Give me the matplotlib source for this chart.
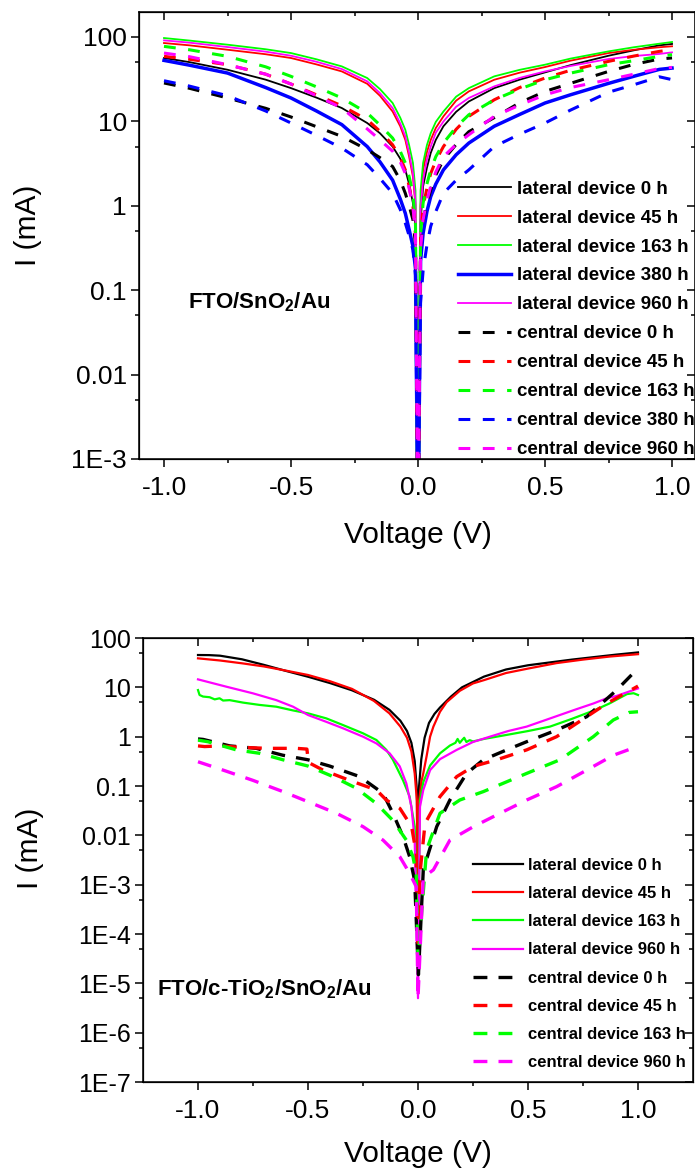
import matplotlib
matplotlib.use("Agg")
import matplotlib.pyplot as plt
from matplotlib.ticker import NullFormatter

plt.rcParams['font.family'] = ['Liberation Sans', 'DejaVu Sans']
plt.rcParams['mathtext.fontset'] = 'custom'
plt.rcParams['mathtext.rm'] = 'Liberation Sans'
plt.rcParams['mathtext.bf'] = 'Liberation Sans:bold'
plt.rcParams['lines.scale_dashes'] = False

# ---------------- data: top panel (FTO/SnO2/Au) ----------------
V_TOP = [-1.0, -0.9, -0.75, -0.6, -0.5, -0.4, -0.3, -0.2, -0.15, -0.1, -0.07, -0.05, -0.035,
         -0.02, -0.01, 0.0, 0.01, 0.02, 0.035, 0.05, 0.07, 0.1, 0.15, 0.2, 0.3, 0.4, 0.5,
         0.6, 0.75, 0.85, 0.95, 1.0]
lat0_top = [55.9, 50, 40.6, 31, 24.6, 19, 14.3, 9.5, 7.2, 5.0, 3.6, 2.65, 1.8,
            1.07, 0.56, 1e-4, 0.63, 1.69, 2.8, 4.2, 6.0, 8.7, 12.9, 17.1, 24.6, 31, 37.8,
            46, 59.5, 69, 79, 82]
lat45_top = [84.1, 79, 70.1, 62, 55.9, 47, 38.8, 27.7, 20, 13.0, 8.7, 6.0, 3.8,
             2.2, 1.0, 1e-4, 1.0, 2.65, 4.3, 6.0, 8.3, 11.4, 17.5, 22.5, 30.9, 37.5, 43.7,
             52, 64, 70, 75, 77]
lat163_top = [96.4, 90, 80.4, 71, 64, 54, 44.5, 32.4, 24, 16.4, 11, 7.9, 5.2,
              3.2, 1.5, 1e-4, 1.5, 3.2, 5.2, 7.2, 9.8, 13, 19.5, 24.6, 33.9, 40.5, 46.6,
              55, 67, 75, 82.6, 86.5]
lat380_top = [52.4, 46, 37.1, 25, 18.8, 13.2, 9.1, 5.0, 3.3, 2.0, 1.2, 0.81, 0.52,
              0.33, 0.18, 1e-4, 0.22, 0.47, 0.85, 1.28, 1.8, 2.65, 4.0, 5.5, 8.7, 12, 16.4,
              20.5, 28, 34, 41, 42.5]
lat960_top = [90.5, 85, 75.4, 66.5, 59.5, 50.5, 41.4, 29.6, 21.5, 14.3, 9.4, 6.6, 4.2,
              2.4, 1.1, 1e-4, 0.9, 2.0, 3.5, 5.0, 7.3, 9.9, 14.8, 18.8, 25.8, 32.5, 38.8,
              45, 54.4, 59, 62.5, 65.2]
cen0_top = [28.3, 24.5, 18.8, 14.2, 11.2, 8.6, 6.6, 4.6, 3.7, 2.9, 2.0, 1.4, 1.0,
            0.68, 0.35, 1e-4, 0.3, 0.68, 1.05, 1.54, 2.3, 3.5, 5.3, 7.5, 11.0, 16.5, 22.5,
            28, 38.8, 47, 54.4, 56]
cen45_top = [58.5, 54, 46.6, 36, 27.5, 20.5, 15.2, 10.4, 7.6, 5.25, 3.7, 2.65, 1.7,
             0.98, 0.45, 1e-4, 0.4, 0.98, 1.6, 2.4, 3.4, 5.0, 8.0, 11.4, 17.9, 25, 32.4,
             40, 51, 59, 67, 70]
cen163_top = [76.8, 70, 58.5, 44, 33.9, 25.5, 18.8, 12.5, 9.0, 6.3, 4.4, 3.2, 2.2,
              1.4, 0.6, 1e-4, 0.45, 1.07, 1.8, 2.65, 3.8, 5.5, 8.5, 11.9, 17.9, 24, 30.9,
              37, 46.6, 52, 58.5, 61.2]
cen380_top = [30.1, 26, 20, 13.2, 9.5, 6.8, 4.8, 3.05, 2.1, 1.4, 0.9, 0.62, 0.44,
              0.30, 0.15, 1e-4, 0.07, 0.17, 0.34, 0.57, 0.85, 1.4, 2.0, 2.65, 5.0, 7.0, 9.5,
              13.5, 22, 27, 33.5, 31]
cen960_top = [64, 58, 46.6, 36, 27.5, 20, 14.3, 8.1, 6.0, 4.4, 3.3, 2.4, 1.6,
              0.98, 0.45, 1e-4, 0.3, 0.68, 1.15, 1.69, 2.5, 3.8, 5.3, 6.9, 11.4, 15.5, 20.5,
              25, 30.9, 36, 42, 43.3]

TOP_LABELS = ["lateral device 0 h", "lateral device 45 h", "lateral device 163 h",
              "lateral device 380 h", "lateral device 960 h",
              "central device 0 h", "central device 45 h", "central device 163 h",
              "central device 380 h", "central device 960 h"]

# ---------------- data: bottom panel (FTO/c-TiO2/SnO2/Au) ----------------
lat0_bot_v = [-1.0, -0.95, -0.9, -0.8, -0.7, -0.6, -0.5, -0.4, -0.3, -0.2, -0.13, -0.08,
              -0.05, -0.03, -0.015, -0.005, 0.0, 0.005, 0.015, 0.03, 0.05, 0.075, 0.1,
              0.15, 0.2, 0.3, 0.4, 0.5, 0.6, 0.7, 0.8, 0.9, 1.0]
lat0_bot_i = [45.2, 45.0, 43.8, 37, 28.5, 21.5, 16.4, 12.2, 8.7, 5.6, 3.5, 2.1,
              1.3, 0.75, 0.32, 0.08, 2e-5, 0.1, 0.35, 0.95, 1.9, 2.9, 3.9,
              6.5, 10, 16.5, 23, 28, 32, 36.5, 41, 46, 51]

lat45_bot_v = [-1.0, -0.9, -0.8, -0.7, -0.6, -0.5, -0.4, -0.3, -0.2, -0.13, -0.08, -0.05,
               -0.03, -0.015, -0.005, 0.0, 0.005, 0.015, 0.024, 0.039, 0.055, 0.07, 0.1,
               0.13, 0.19, 0.25, 0.3, 0.4, 0.5, 0.63, 0.75, 0.87, 1.0]
lat45_bot_i = [38.7, 35, 30.7, 26.5, 21.8, 17.8, 13.3, 9.3, 5.3, 2.97, 1.6, 0.95,
               0.5, 0.18, 0.05, 3e-5, 0.05, 0.12, 0.18, 0.4, 1.0, 1.6, 3.2,
               5.0, 8.5, 12, 14, 19.5, 24, 31, 36.5, 42, 47]

lat163_bot_v = [-1.0, -0.993, -0.977, -0.947, -0.924, -0.902, -0.886, -0.856, -0.795, -0.72,
                -0.644, -0.568, -0.5, -0.417, -0.341, -0.25, -0.189, -0.144, -0.114, -0.068,
                -0.038, -0.015, 0.0, 0.009, 0.024, 0.055, 0.1, 0.145, 0.17, 0.18, 0.19, 0.2,
                0.21, 0.22, 0.235, 0.25, 0.3, 0.4, 0.5, 0.6, 0.7, 0.8, 0.87, 0.95, 0.98, 1.0]
lat163_bot_i = [8.8, 7.0, 6.5, 6.3, 5.7, 6.0, 5.4, 5.5, 4.9, 4.4,
                4.05, 3.4, 2.97, 2.35, 1.72, 1.17, 0.855, 0.54, 0.34, 0.13,
                0.061, 0.015, 3e-5, 0.05, 0.12, 0.26, 0.46, 0.66, 0.75, 0.9, 0.75, 0.85,
                0.95, 0.78, 0.85, 0.8, 0.9, 1.08, 1.3, 1.6, 2.3, 3.4, 4.7, 7.3, 7.6, 7.0]

lat960_bot_v = [-1.0, -0.871, -0.75, -0.644, -0.568, -0.5, -0.417, -0.341, -0.25, -0.189,
                -0.129, -0.083, -0.053, -0.030, -0.015, 0.0, 0.009, 0.024, 0.055, 0.1,
                0.176, 0.25, 0.327, 0.41, 0.494, 0.57, 0.645, 0.72, 0.797, 0.858, 0.903, 1.0]
lat960_bot_i = [14.5, 10.3, 7.55, 5.5, 4.05, 2.75, 2.0, 1.48, 1.0, 0.73,
                0.46, 0.25, 0.113, 0.038, 0.008, 5e-6, 0.038, 0.083, 0.21, 0.35,
                0.54, 0.78, 1.0, 1.3, 1.6, 2.1, 2.75, 3.6, 4.7, 6.0, 6.7, 9.5]

cen0_bot_v = [-1.0, -0.977, -0.856, -0.735, -0.614, -0.5, -0.402, -0.265, -0.159, -0.114,
              -0.068, -0.038, -0.015, 0.002, 0.024, 0.085, 0.145, 0.221, 0.297, 0.403,
              0.494, 0.63, 0.767, 0.903, 1.0]
cen0_bot_i = [0.9, 0.88, 0.65, 0.58, 0.42, 0.34, 0.254, 0.155, 0.071, 0.028,
              0.0094, 0.0037, 0.0012, 1.5e-5, 0.002, 0.015, 0.052, 0.18, 0.34, 0.54,
              0.79, 1.36, 2.54, 8.8, 24.3]

cen45_bot_v = [-1.0, -0.97, -0.902, -0.811, -0.689, -0.553, -0.505, -0.498, -0.432, -0.311,
               -0.189, -0.144, -0.082, -0.029, -0.008, 0.0, 0.009, 0.032, 0.1, 0.176,
               0.252, 0.358, 0.494, 0.63, 0.767, 0.858, 1.0]
cen45_bot_i = [0.65, 0.63, 0.65, 0.61, 0.58, 0.58, 0.56, 0.30, 0.21, 0.13,
               0.083, 0.052, 0.035, 0.015, 0.0043, 5e-5, 0.0017, 0.0175, 0.061, 0.155,
               0.25, 0.34, 0.54, 1.0, 2.54, 4.7, 10.6]

cen163_bot_v = [-1.0, -0.955, -0.826, -0.72, -0.614, -0.5, -0.386, -0.28, -0.189, -0.114,
                -0.053, -0.023, -0.008, 0.0, 0.039, 0.055, 0.1, 0.19, 0.297, 0.494,
                0.645, 0.797, 0.888, 0.96, 1.0]
cen163_bot_i = [0.85, 0.79, 0.54, 0.46, 0.34, 0.254, 0.155, 0.09, 0.044, 0.020,
                0.008, 0.0037, 0.0017, 3e-5, 0.005, 0.008, 0.028, 0.052, 0.077, 0.18,
                0.34, 1.0, 2.18, 3.1, 3.2]

cen960_bot_v = [-1.0, -0.886, -0.75, -0.614, -0.5, -0.371, -0.25, -0.159, -0.083, -0.038,
                -0.008, 0.0, 0.024, 0.07, 0.145, 0.252, 0.373, 0.494, 0.63, 0.767,
                0.888, 0.96, 1.0]
cen960_bot_i = [0.31, 0.21, 0.13, 0.077, 0.048, 0.028, 0.015, 0.008, 0.0037, 0.0017,
                0.00091, 5e-6, 0.0014, 0.002, 0.008, 0.015, 0.028, 0.052, 0.097, 0.21,
                0.42, 0.55, 0.55]

BOT_LABELS = ["lateral device 0 h", "lateral device 45 h", "lateral device 163 h",
              "lateral device 960 h", "central device 0 h", "central device 45 h",
              "central device 163 h", "central device 960 h"]

X_TICKS = [-1.0, -0.5, 0.0, 0.5, 1.0]
X_TICKLABELS = ["-1.0", "-0.5", "0.0", "0.5", "1.0"]
X_MINOR = [-0.75, -0.25, 0.25, 0.75]
TOP_YTICKS = [1e-3, 1e-2, 1e-1, 1, 10, 100]
TOP_YLABELS = ["1E-3", "0.01", "0.1", "1", "10", "100"]
BOT_YTICKS = [1e-7, 1e-6, 1e-5, 1e-4, 1e-3, 1e-2, 1e-1, 1, 10, 100]
BOT_YLABELS = ["1E-7", "1E-6", "1E-5", "1E-4", "1E-3", "0.01", "0.1", "1", "10", "100"]

BLACK, RED, GREEN, BLUE, MAGENTA = "#000000", "#ff0000", "#00ff00", "#0000ff", "#ff00ff"

W, H = 695, 1171
fig = plt.figure(figsize=(W / 100, H / 100), dpi=100)


def px_axes(l, t, r, b):
    return [l / W, 1 - b / H, (r - l) / W, (b - t) / H]


def style(ax, xlim, ylim, yticks, ylabels, ysize):
    ax.set_yscale('log')
    ax.set_xlim(*xlim)
    ax.set_ylim(*ylim)
    ax.set_xticks(X_TICKS)
    ax.set_xticklabels(X_TICKLABELS)
    ax.set_xticks(X_MINOR, minor=True)
    ax.set_yticks(yticks)
    ax.set_yticklabels(ylabels)
    ymin = [5 * t for t in yticks if 5 * t < ylim[1]]
    ax.set_yticks(ymin, minor=True)
    ax.yaxis.set_minor_formatter(NullFormatter())
    ax.tick_params(which='both', direction='out', width=1.1, top=False, right=False)
    ax.tick_params(which='major', length=5.5)
    ax.tick_params(which='minor', length=3.2)
    ax.tick_params(axis='x', labelsize=19, pad=7)
    ax.tick_params(axis='y', labelsize=ysize, pad=3)
    for s in ax.spines.values():
        s.set_linewidth(1.1)
    # inward mirror ticks on top and right
    tx = ax.twiny()
    tx.set_xlim(*xlim)
    tx.set_xticks(X_TICKS)
    tx.set_xticks(X_MINOR, minor=True)
    tx.tick_params(which='both', direction='in', labeltop=False, width=1.1)
    tx.tick_params(which='major', length=5.5)
    tx.tick_params(which='minor', length=3.2)
    ty = ax.twinx()
    ty.set_yscale('log')
    ty.set_ylim(*ylim)
    ty.set_yticks(yticks)
    ty.set_yticks(ymin, minor=True)
    ty.yaxis.set_minor_formatter(NullFormatter())
    ty.tick_params(which='both', direction='in', labelright=False, width=1.1)
    ty.tick_params(which='major', length=5.5)
    ty.tick_params(which='minor', length=3.2)


# ---------------- top panel ----------------
ax1 = fig.add_axes(px_axes(138.6, 12, 694.9, 459))
DT = (8.5, 9.0)
top_series = [
    (lat0_top, BLACK, 1.3, None), (lat45_top, RED, 1.3, None), (lat163_top, GREEN, 1.3, None),
    (lat380_top, BLUE, 2.5, None), (lat960_top, MAGENTA, 1.3, None),
    (cen0_top, BLACK, 2.2, DT), (cen45_top, RED, 2.2, DT), (cen163_top, GREEN, 2.2, DT),
    (cen380_top, BLUE, 2.2, DT), (cen960_top, MAGENTA, 2.2, DT)]
handles1 = []
for (vals, c, lw, d), lab in zip(top_series, TOP_LABELS):
    if d is None:
        ln, = ax1.plot(V_TOP, vals, color=c, lw=lw, label=lab)
    else:
        ln, = ax1.plot(V_TOP, vals, color=c, lw=lw, dashes=d, label=lab)
    handles1.append(ln)
style(ax1, (-1.1, 1.09), (1e-3, 196), TOP_YTICKS, TOP_YLABELS, 19)
ax1.legend(handles=handles1, loc='upper left', bbox_to_anchor=(458 / W, 1 - 180.5 / H),
           bbox_transform=fig.transFigure, frameon=False, borderpad=0, borderaxespad=0,
           handlelength=2.8, handletextpad=0.33, labelspacing=0.63,
           prop={'weight': 'bold', 'size': 13.5})
fig.text(188 / W, 1 - 308 / H, r"FTO/SnO$_\mathbf{2}$/Au", fontsize=16, fontweight='bold',
         ha='left', va='baseline')
fig.text(418 / W, 1 - 535 / H, "Voltage (V)", fontsize=21.5, ha='center', va='center')
fig.text(28 / W, 1 - 225 / H, "I (mA)", fontsize=21.5, ha='center', va='center', rotation=90)

# ---------------- bottom panel ----------------
ax2 = fig.add_axes(px_axes(143, 638, 693, 1082))
DB = (10.0, 8.0)
bot_series = [
    (lat0_bot_v, lat0_bot_i, BLACK, 1.6, None), (lat45_bot_v, lat45_bot_i, RED, 1.6, None),
    (lat163_bot_v, lat163_bot_i, GREEN, 1.6, None), (lat960_bot_v, lat960_bot_i, MAGENTA, 1.6, None),
    (cen0_bot_v, cen0_bot_i, BLACK, 2.4, DB), (cen45_bot_v, cen45_bot_i, RED, 2.4, DB),
    (cen163_bot_v, cen163_bot_i, GREEN, 2.4, DB), (cen960_bot_v, cen960_bot_i, MAGENTA, 2.4, DB)]
handles2 = []
for (vv, ii, c, lw, d), lab in zip(bot_series, BOT_LABELS):
    if d is None:
        ln, = ax2.plot(vv, ii, color=c, lw=lw, label=lab)
    else:
        ln, = ax2.plot(vv, ii, color=c, lw=lw, dashes=d, label=lab)
    handles2.append(ln)
style(ax2, (-1.25, 1.25), (1e-7, 100), BOT_YTICKS, BOT_YLABELS, 18)
ax2.legend(handles=handles2, loc='upper left', bbox_to_anchor=(473 / W, 1 - 858 / H),
           bbox_transform=fig.transFigure, frameon=False, borderpad=0, borderaxespad=0,
           handlelength=3.0, handletextpad=0.3, labelspacing=0.79,
           prop={'weight': 'bold', 'size': 12})
fig.text(157 / W, 1 - 995 / H, r"FTO/c-TiO$_\mathbf{2}$/SnO$_\mathbf{2}$/Au", fontsize=16,
         fontweight='bold', ha='left', va='baseline')
fig.text(418 / W, 1 - 1154 / H, "Voltage (V)", fontsize=21.5, ha='center', va='center')
fig.text(30 / W, 1 - 848 / H, "I (mA)", fontsize=21.5, ha='center', va='center', rotation=90)

fig.savefig("out.png", dpi=100)
